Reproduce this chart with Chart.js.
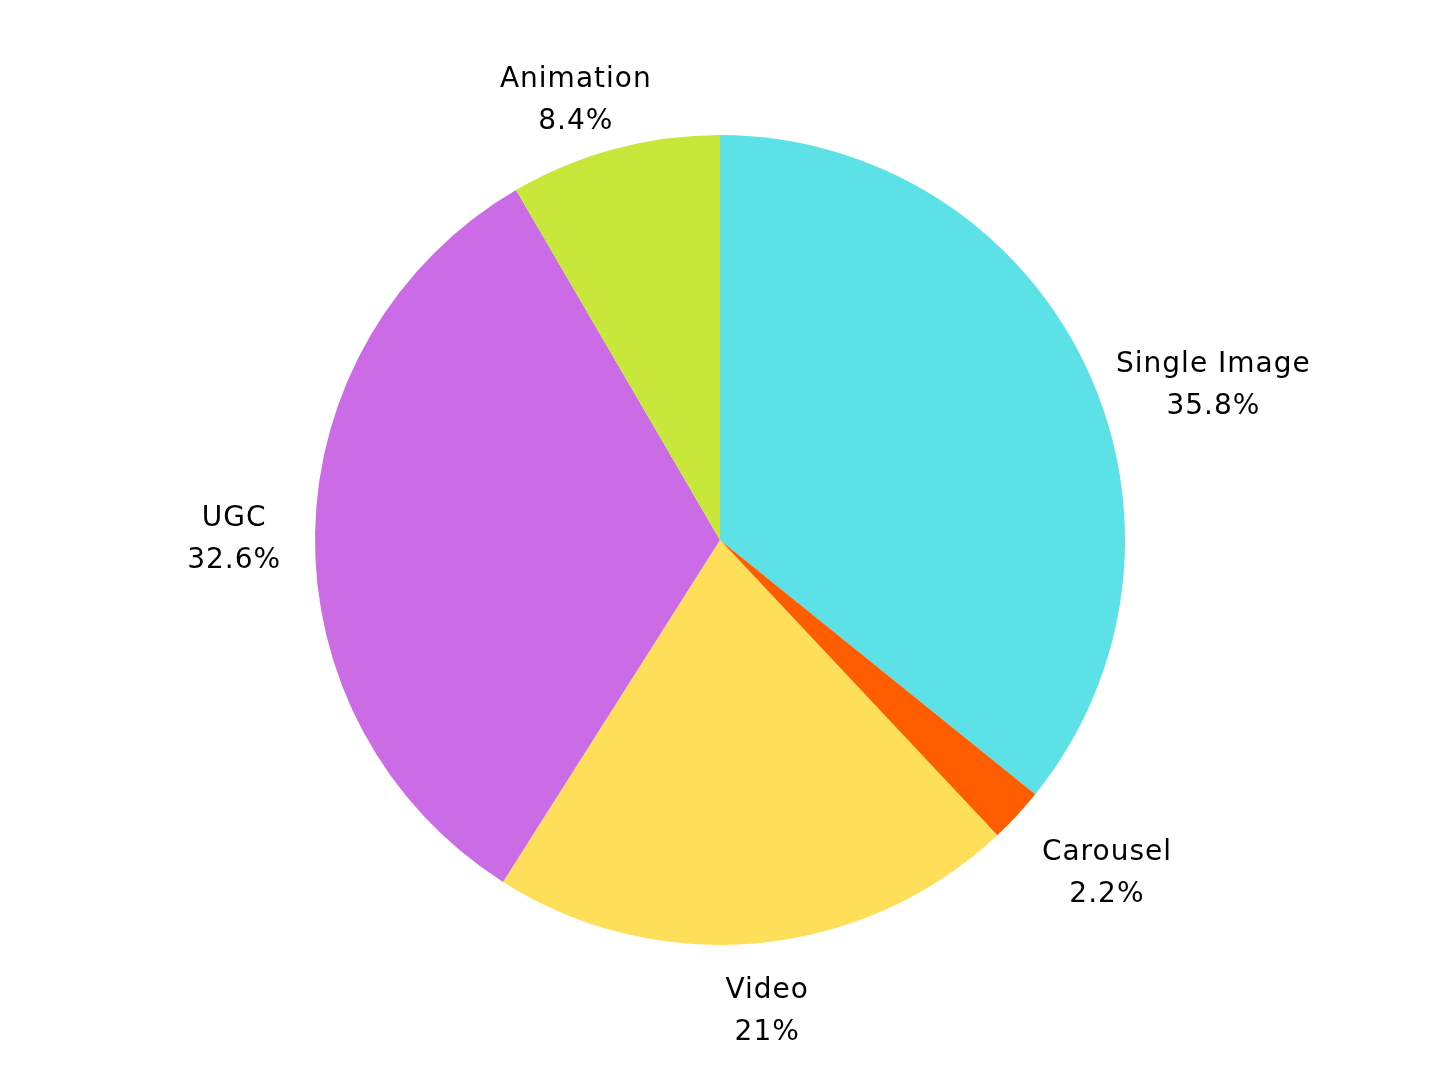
<!DOCTYPE html>
<html>
<head>
<meta charset="utf-8">
<script src="https://cdn.jsdelivr.net/npm/chart.js@4/dist/chart.umd.min.js"></script>
<style>
  html, body { margin: 0; padding: 0; background: #ffffff; }
  #wrap { width: 1440px; height: 1080px; }
</style>
</head>
<body>
<div id="wrap"><canvas id="pie" width="1440" height="1080"></canvas></div>
<script>
const categories = ["Single Image", "Carousel", "Video", "UGC", "Animation"];
const shares = [35.8, 2.2, 21, 32.6, 8.4];
const sliceColors = ["#5ce1e6", "#ff5e00", "#ffde59", "#cb6ce6", "#c7e83b"];

const LABEL_FONT = '28px "DejaVu Sans", sans-serif';
const LINE_H = 42;
const BLOCK_H = 70;

// two-line label ("name" / "value%") just outside each slice.
// the block touches the slice's mid-angle ray: hung below it, sat on top of it
// near the top of the pie, or centred on the pie's middle line at the sides.
const outsideLabels = {
    id: 'outsideLabels',
    afterDatasetsDraw(chart) {
        const ctx = chart.ctx;
        const meta = chart.getDatasetMeta(0);
        ctx.save();
        ctx.font = LABEL_FONT;
        ctx.letterSpacing = '1px';
        ctx.fillStyle = '#000000';
        ctx.textAlign = 'center';
        ctx.textBaseline = 'middle';
        meta.data.forEach((arc, i) => {
            const lines = [categories[i], shares[i] + '%'];
            const w = Math.max(...lines.map(t => ctx.measureText(t).width));
            const mid = (arc.startAngle + arc.endAngle) / 2;
            const dx = Math.cos(mid), dy = Math.sin(mid);
            const R = arc.outerRadius + 34;
            const px = arc.x + dx * R;
            const py = arc.y + dy * R;

            const s = Math.max(-1, Math.min(1, dx * 1.5));
            const left = px + w * (s - 1) / 2;
            let top;
            if (Math.abs(dx) > 0.98) top = arc.y - BLOCK_H / 2;
            else if (dy < -0.7) top = py - BLOCK_H + 20;
            else top = py;

            const x = left + w / 2;
            ctx.fillText(lines[0], x, top + 14);
            ctx.fillText(lines[1], x, top + 14 + LINE_H);
        });
        ctx.restore();
    }
};

new Chart(document.getElementById('pie').getContext('2d'), {
    type: 'pie',
    data: {
        labels: categories,
        datasets: [{
            data: shares,
            backgroundColor: sliceColors,
            borderWidth: 0
        }]
    },
    options: {
        responsive: false,
        animation: false,
        layout: { padding: { top: 135, bottom: 135 } },
        plugins: {
            legend: { display: false },
            tooltip: { enabled: false }
        }
    },
    plugins: [outsideLabels]
});
</script>
</body>
</html>
